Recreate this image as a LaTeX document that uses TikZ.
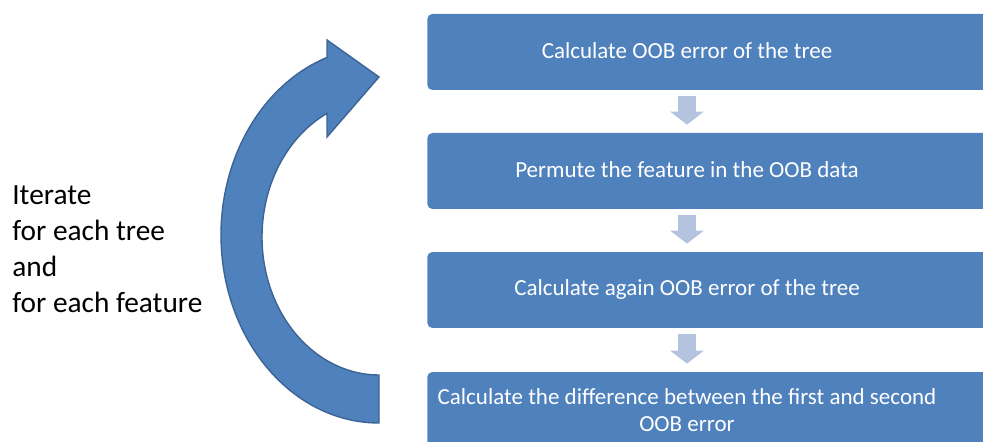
\documentclass[tikz,border=0pt]{standalone}
\usepackage{fontspec}
\setmainfont{Carlito}
\usepackage{tikz}
\usepackage{xcolor}
\usetikzlibrary{positioning, arrows.meta}
\definecolor{boxblue}{HTML}{4F81BD}
\definecolor{boxedge}{HTML}{3C6494}
\definecolor{lightarrow}{HTML}{B4C4DF}
\tikzset{
    stepbox/.style={rectangle, rounded corners=0.1cm, fill=boxblue, minimum width=12cm, minimum height=1.52cm, anchor=west, inner sep=0pt},
    steptext/.style={text=white, font=\fontsize{13.1}{15.8}\selectfont, align=center, inner sep=0pt},
    flowarrow/.style={-{Triangle[width=0.66cm, length=0.26cm]}, line width=0.36cm, draw=lightarrow, shorten <=0.12cm, shorten >=0.16cm}
}

\begin{document}
\begin{tikzpicture}[
    x=0.02cm, y=0.02cm,
    looparrow/.style={fill=boxblue, draw=boxedge, line width=0.8pt, line join=miter},
    looptext/.style={font=\fontsize{16.7}{20.5}\selectfont, align=left, anchor=west, inner sep=0pt}
]
\useasboundingbox (0,0) rectangle (983,442);

% Boxes
\node[stepbox] (b1) at (427,390) {};
\node[stepbox] (b2) at (427,271) {};
\node[stepbox] (b3) at (427,152) {};
\node[stepbox] (b4) at (427,32) {};

% Box texts
\node[steptext] (t1) at (687,391) {Calculate OOB error of the tree};
\node[steptext] (t2) at (687,272) {Permute the feature in the OOB data};
\node[steptext] (t3) at (687,153) {Calculate again OOB error of the tree};
\node[steptext] (t4) at (687,32) {Calculate the difference between the first and second\\OOB error};

% Arrows between boxes
\draw[flowarrow] (b1.south -| t1) -- (b2.north -| t1);
\draw[flowarrow] (b2.south -| t2) -- (b3.north -| t2);
\draw[flowarrow] (b3.south -| t3) -- (b4.north -| t3);

% Loop arrow
\draw[looparrow] (379,19) arc[start angle=270, end angle=109.2, x radius=158, y radius=188]
    -- (327,402) -- (379,365) -- (327,305) -- (327,328.6)
    arc[start angle=116.4, end angle=270, x radius=117, y radius=138] -- cycle;

\node[looptext] (iter) at (12,193) {Iterate\\for each tree\\and\\for each feature};

\end{tikzpicture}
\end{document}
